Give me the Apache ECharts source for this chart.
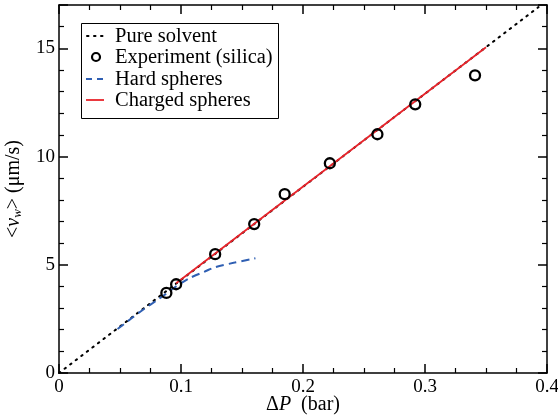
<!DOCTYPE html>
<html><head><meta charset="utf-8">
<script src="https://cdn.jsdelivr.net/npm/echarts@6/dist/echarts.min.js"></script>
<style>html,body{margin:0;padding:0;background:#fff}#c{width:558px;height:419px}</style>
</head><body><div id="c"></div>
<script>
// Data
const solventX = [0, 0.393];
const solventY = [0, 16.9];
const expX = [0.088, 0.096, 0.128, 0.160, 0.185, 0.222, 0.261, 0.292, 0.341];
const expY = [3.7, 4.1, 5.49, 6.88, 8.26, 9.69, 11.03, 12.41, 13.75];
const hardX = [0.048, 0.06, 0.07, 0.08, 0.0885, 0.096, 0.107, 0.12, 0.128, 0.144, 0.161];
const hardY = [2.03, 2.55, 2.97, 3.35, 3.69, 4.0, 4.38, 4.7, 4.89, 5.1, 5.3];
const chargedX = [0.096, 0.35];
const chargedY = [4.15, 15.05];
const xTicks = ['0', '0.1', '0.2', '0.3', '0.4'];
const yTicks = ['0', '5', '10', '15'];
const legendNames = ['Pure solvent', 'Experiment (silica)', 'Hard spheres', 'Charged spheres'];

const zip = (a, b) => a.map((v, i) => [v, b[i]]);
const FONT = 'Liberation Serif';
const BLUE = '#2f5fb3', RED = '#e8232a';
const axisBase = {
  min: 0,
  axisLine: { show: true, onZero: false, lineStyle: { color: '#000', width: 1.5 } },
  axisTick: { show: true, inside: true, length: 9, lineStyle: { color: '#000', width: 1.5 } },
  minorTick: { show: true, length: 5, lineStyle: { color: '#000', width: 1.2 } },
  splitLine: { show: false },
};

// legend drawn as graphic elements
const LX = 81, LY = 23, LW = 197, LH = 95;
const rowY = [36, 57, 79, 100];
const legendGraphics = [
  { type: 'rect', left: LX, top: LY, shape: { x: 0, y: 0, width: LW, height: LH },
    style: { fill: '#fff', stroke: '#000', lineWidth: 1 }, z: 100 },
  { type: 'line', shape: { x1: 87, y1: rowY[0], x2: 104, y2: rowY[0] },
    style: { stroke: '#000', lineWidth: 2, lineDash: [1.5, 5.5], lineCap: 'round' }, z: 101 },
  { type: 'circle', shape: { cx: 96, cy: rowY[1], r: 4 },
    style: { fill: 'none', stroke: '#000', lineWidth: 2.2 }, z: 101 },
  { type: 'line', shape: { x1: 86, y1: rowY[2], x2: 104, y2: rowY[2] },
    style: { stroke: BLUE, lineWidth: 2, lineDash: [6, 5] }, z: 101 },
  { type: 'line', shape: { x1: 86, y1: rowY[3], x2: 104, y2: rowY[3] },
    style: { stroke: RED, lineWidth: 1.8 }, z: 101 },
].concat(legendNames.map((t, i) => ({
  type: 'text', left: 115, top: rowY[i] - 10, z: 101,
  style: { text: t, font: '20.5px "Liberation Serif"', fill: '#000' }
})));

const chart = echarts.init(document.getElementById('c'));
chart.setOption({
  animation: false,
  backgroundColor: '#fff',
  textStyle: { fontFamily: FONT },
  grid: { left: 59, right: 11, top: 5, bottom: 46, containLabel: false, outerBoundsMode: 'none' },
  graphic: legendGraphics,
  xAxis: [
    Object.assign({}, axisBase, {
      type: 'value', max: 0.4, interval: 0.1, position: 'bottom',
      minorTick: Object.assign({}, axisBase.minorTick, { splitNumber: 4 }),
      axisLabel: { color: '#000', fontFamily: FONT, fontSize: 19, margin: 5,
        formatter: (v) => xTicks[Math.round(v * 10)] },
      name: '{d|Δ}{i|P}{d|  (bar)}', nameLocation: 'middle', nameGap: 22, nameMoveOverlap: false,
      nameTextStyle: { rich: {
        d: { fontFamily: FONT, fontSize: 20, color: '#000' },
        i: { fontFamily: FONT, fontSize: 20, fontStyle: 'italic', color: '#000' } } }
    }),
    Object.assign({}, axisBase, {
      type: 'value', max: 0.4, interval: 0.1, position: 'top',
      minorTick: Object.assign({}, axisBase.minorTick, { splitNumber: 4 }),
      axisLabel: { show: false }
    })
  ],
  yAxis: [
    Object.assign({}, axisBase, {
      type: 'value', max: 17, interval: 5, position: 'left',
      minorTick: Object.assign({}, axisBase.minorTick, { splitNumber: 5 }),
      axisLabel: { color: '#000', fontFamily: FONT, fontSize: 19, margin: 4,
        formatter: (v) => (v % 5 === 0 ? yTicks[v / 5] : '') },
      name: '{d|<}{i|v}{s|w}{d|> (μm/s)}', nameLocation: 'middle', nameGap: 35,
      nameTextStyle: { rich: {
        d: { fontFamily: FONT, fontSize: 20, color: '#000' },
        i: { fontFamily: FONT, fontSize: 20, fontStyle: 'italic', color: '#000' },
        s: { fontFamily: FONT, fontSize: 13, fontStyle: 'italic', color: '#000', verticalAlign: 'bottom', padding: [8, 0, 0, 0] } } }
    }),
    Object.assign({}, axisBase, {
      type: 'value', max: 17, interval: 5, position: 'right',
      minorTick: Object.assign({}, axisBase.minorTick, { splitNumber: 5 }),
      axisLabel: { show: false }
    })
  ],
  series: [
    { name: legendNames[0], type: 'line', data: zip(solventX, solventY), symbol: 'none',
      lineStyle: { color: '#000', width: 2, type: [1.5, 5.5], cap: 'round' }, z: 1 },
    { name: legendNames[2], type: 'line', data: zip(hardX, hardY), symbol: 'none', smooth: 0.3,
      lineStyle: { color: BLUE, width: 2, type: [8, 5] }, z: 2 },
    { name: legendNames[3], type: 'line', data: zip(chargedX, chargedY), symbol: 'none',
      lineStyle: { color: RED, width: 1.8 }, z: 3 },
    { name: legendNames[1], type: 'scatter', data: zip(expX, expY), symbol: 'circle', symbolSize: 10,
      itemStyle: { color: 'rgba(255,255,255,0)', borderColor: '#000', borderWidth: 2.3, opacity: 1 }, z: 5 }
  ]
});
</script></body></html>
